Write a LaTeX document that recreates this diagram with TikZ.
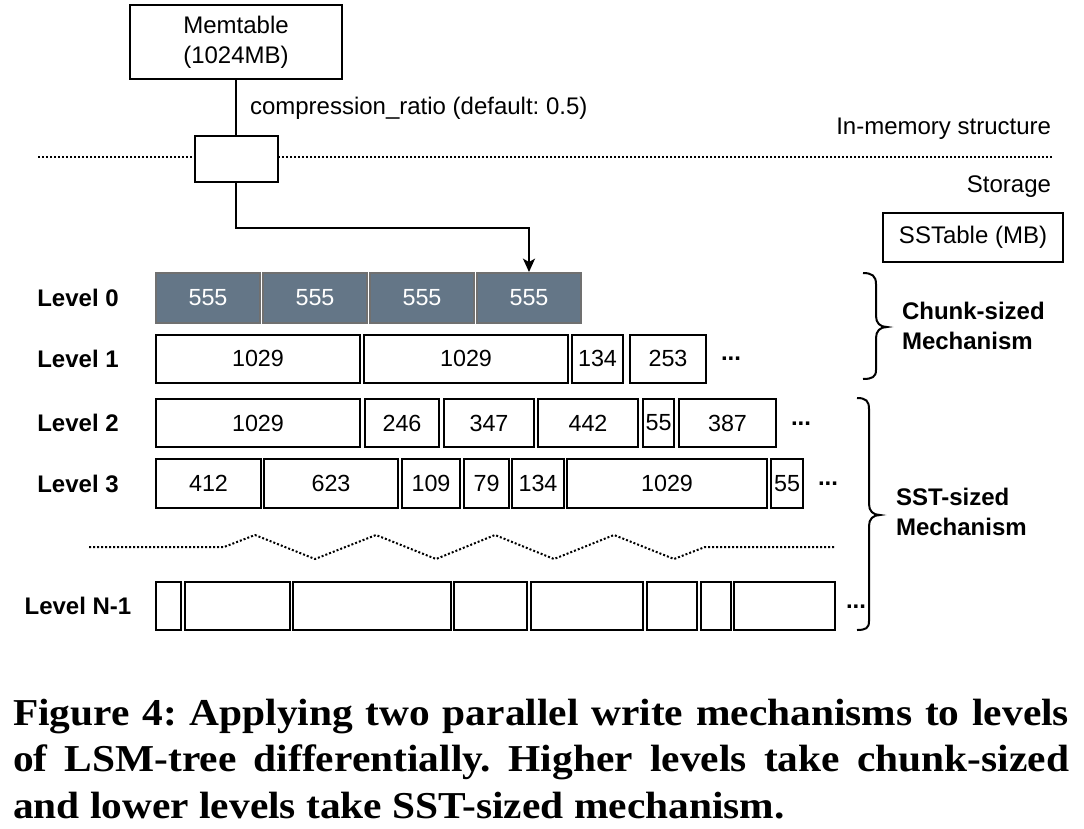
\documentclass[tikz,border=0pt]{standalone}
\usepackage{fontspec}
\setmainfont{Liberation Sans}
\newfontfamily\capfont[FakeStretch=1.09]{Liberation Serif}
\usetikzlibrary{arrows.meta}
\frenchspacing

\definecolor{slate}{RGB}{100,118,135}
\definecolor{slateedge}{RGB}{112,112,112}

\tikzset{every picture/.style={line width=1.5pt}}
\tikzset{
	txt/.style={font=\fontsize{18}{22.5}\selectfont, inner sep=0pt},
	lvl/.style={font=\bfseries\fontsize{18}{22.5}\selectfont, inner sep=0pt},
	sstbox/.style={draw, line width=1.5pt, inner sep=0pt, font=\fontsize{17.5}{21}\selectfont},
	l0box/.style={sstbox, draw=slateedge, fill=slate, text=white},
	more/.style={font=\bfseries\fontsize{18}{22.5}\selectfont, inner sep=0pt, anchor=base},
	dotline/.style={line width=1.5pt, dash pattern=on 1.5pt off 1.5pt},
	brc/.style={line width=1.5pt},
	caption/.style={font=\capfont\bfseries\fontsize{28.5}{34}\selectfont, inner sep=0pt, anchor=base west},
}

\begin{document}
\begin{tikzpicture}[x=0.75pt,y=0.75pt,yscale=-1,xscale=1]
	\useasboundingbox (0,0) rectangle (1084,828);

	% Memtable and flush buffer
	\node[txt, draw, line width=1.75pt, align=center, minimum width=159pt, minimum height=55.5pt] (mem) at (236,42) {Memtable\\(1024MB)};
	\node[txt, anchor=west] (ratio) at (249,108) {compression\_ratio (default: 0.5)};
	% memory / storage border
	\draw[dotline] (38,157) -- (1052,157);
	\node[draw, line width=1.5pt, fill=white, minimum width=62.25pt, minimum height=34.5pt] (buf) at (236,159) {};
	\node[txt, anchor=east] (inmem) at (1052,129) {In-memory structure};
	\node[txt, anchor=east] (stor) at (1052,187) {Storage};
	\node[txt, draw, line width=1.75pt, minimum width=135pt, minimum height=36.75pt] (legend) at (973,237.5) {SSTable (MB)};

	% Level labels
	\foreach \n/\y in {0/298,1/358.5,2/423,3/483.5,N-1/606}
		\node[lvl] (lab\n) at (78,\y) {Level \n};

	% Level 0
	\foreach \xa/\xb/\lab [count=\i] in {156/260/555,263/367/555,370/474/555,477/581/555}
		\node[l0box, minimum width={(\xb-\xa)*0.75pt}, minimum height=37.5pt] (l0-\i) at ({(\xa+\xb)/2},298) {\lab};
	% Level 1
	\foreach \xa/\xb/\lab [count=\i] in {156/360/1029,364/568/1029,572/623/134,630/706/253}
		\node[sstbox, minimum width={(\xb-\xa)*0.75pt}, minimum height=36pt] (l1-\i) at ({(\xa+\xb)/2},358.5) {\lab};
	% Level 2
	\foreach \xa/\xb/\lab [count=\i] in {156/360/1029,365/439/246,444/534/347,538/638/442,643/674/55,679/776/387}
		\node[sstbox, minimum width={(\xb-\xa)*0.75pt}, minimum height=36pt] (l2-\i) at ({(\xa+\xb)/2},423) {\lab};
	% Level 3
	\foreach \xa/\xb/\lab [count=\i] in {156/261/412,264/398/623,402/460/109,464/509/79,512/564/134,567/767/1029,771/803/55}
		\node[sstbox, minimum width={(\xb-\xa)*0.75pt}, minimum height=36.75pt] (l3-\i) at ({(\xa+\xb)/2},483.5) {\lab};
	% Level N-1
	\foreach \xa/\xb [count=\i] in {156/181,185/290,293/451,454/527,531/643,647/697,701/731,734/835}
		\node[sstbox, minimum width={(\xb-\xa)*0.75pt}, minimum height=36pt] (ln-\i) at ({(\xa+\xb)/2},606) {};

	\node[more] (more1) at (731,360.5) {...};
	\node[more] (more2) at (801,425) {...};
	\node[more] (more3) at (828,485.5) {...};
	\node[more] (moren) at (856,608) {...};

	% skipped levels
	\draw[dotline] (89,547) -- (224,547) -- (255,535) -- (315,559) -- (376,535) -- (436,559) -- (495,535) -- (554,559) -- (614,535) -- (674,559) -- (705,547) -- (835,547);

	% flush path
	\draw (mem.south) -- (buf.north);
	\draw[-{Stealth[length=10pt,width=9pt,inset=2.5pt]}] (buf.south) -- ++(0,45) -| (l0-4.north);

	% braces
	\draw[brc] (863,273) .. controls (872,273) and (876,276) .. (876,284) -- (876,316) .. controls (876,323) and (880,327) .. (887,327) .. controls (880,327) and (876,331) .. (876,338) -- (876,370) .. controls (876,377) and (872,379) .. (863,379);
	\draw[brc] (857,398) .. controls (866,398) and (869,401) .. (869,409) -- (869,504) .. controls (869,511) and (873,515) .. (880,515) .. controls (873,515) and (869,519) .. (869,526) -- (869,621) .. controls (869,628) and (866,630) .. (857,630);
	\node[lvl, anchor=west, align=left] (chunk) at (901,326) {Chunk-sized\\Mechanism};
	\node[lvl, anchor=west, align=left] (sstm) at (895,512) {SST-sized\\Mechanism};

	% caption
	\node[caption] (cap1) at (12,725) {\makebox[792pt][s]{Figure 4: Applying two parallel write mechanisms to levels}};
	\node[caption] (cap2) at (12,771) {\makebox[792pt][s]{of LSM-tree differentially. Higher levels take chunk-sized}};
	\node[caption] (cap3) at (12,818) {and lower levels take SST-sized mechanism.};

\end{tikzpicture}
\end{document}
